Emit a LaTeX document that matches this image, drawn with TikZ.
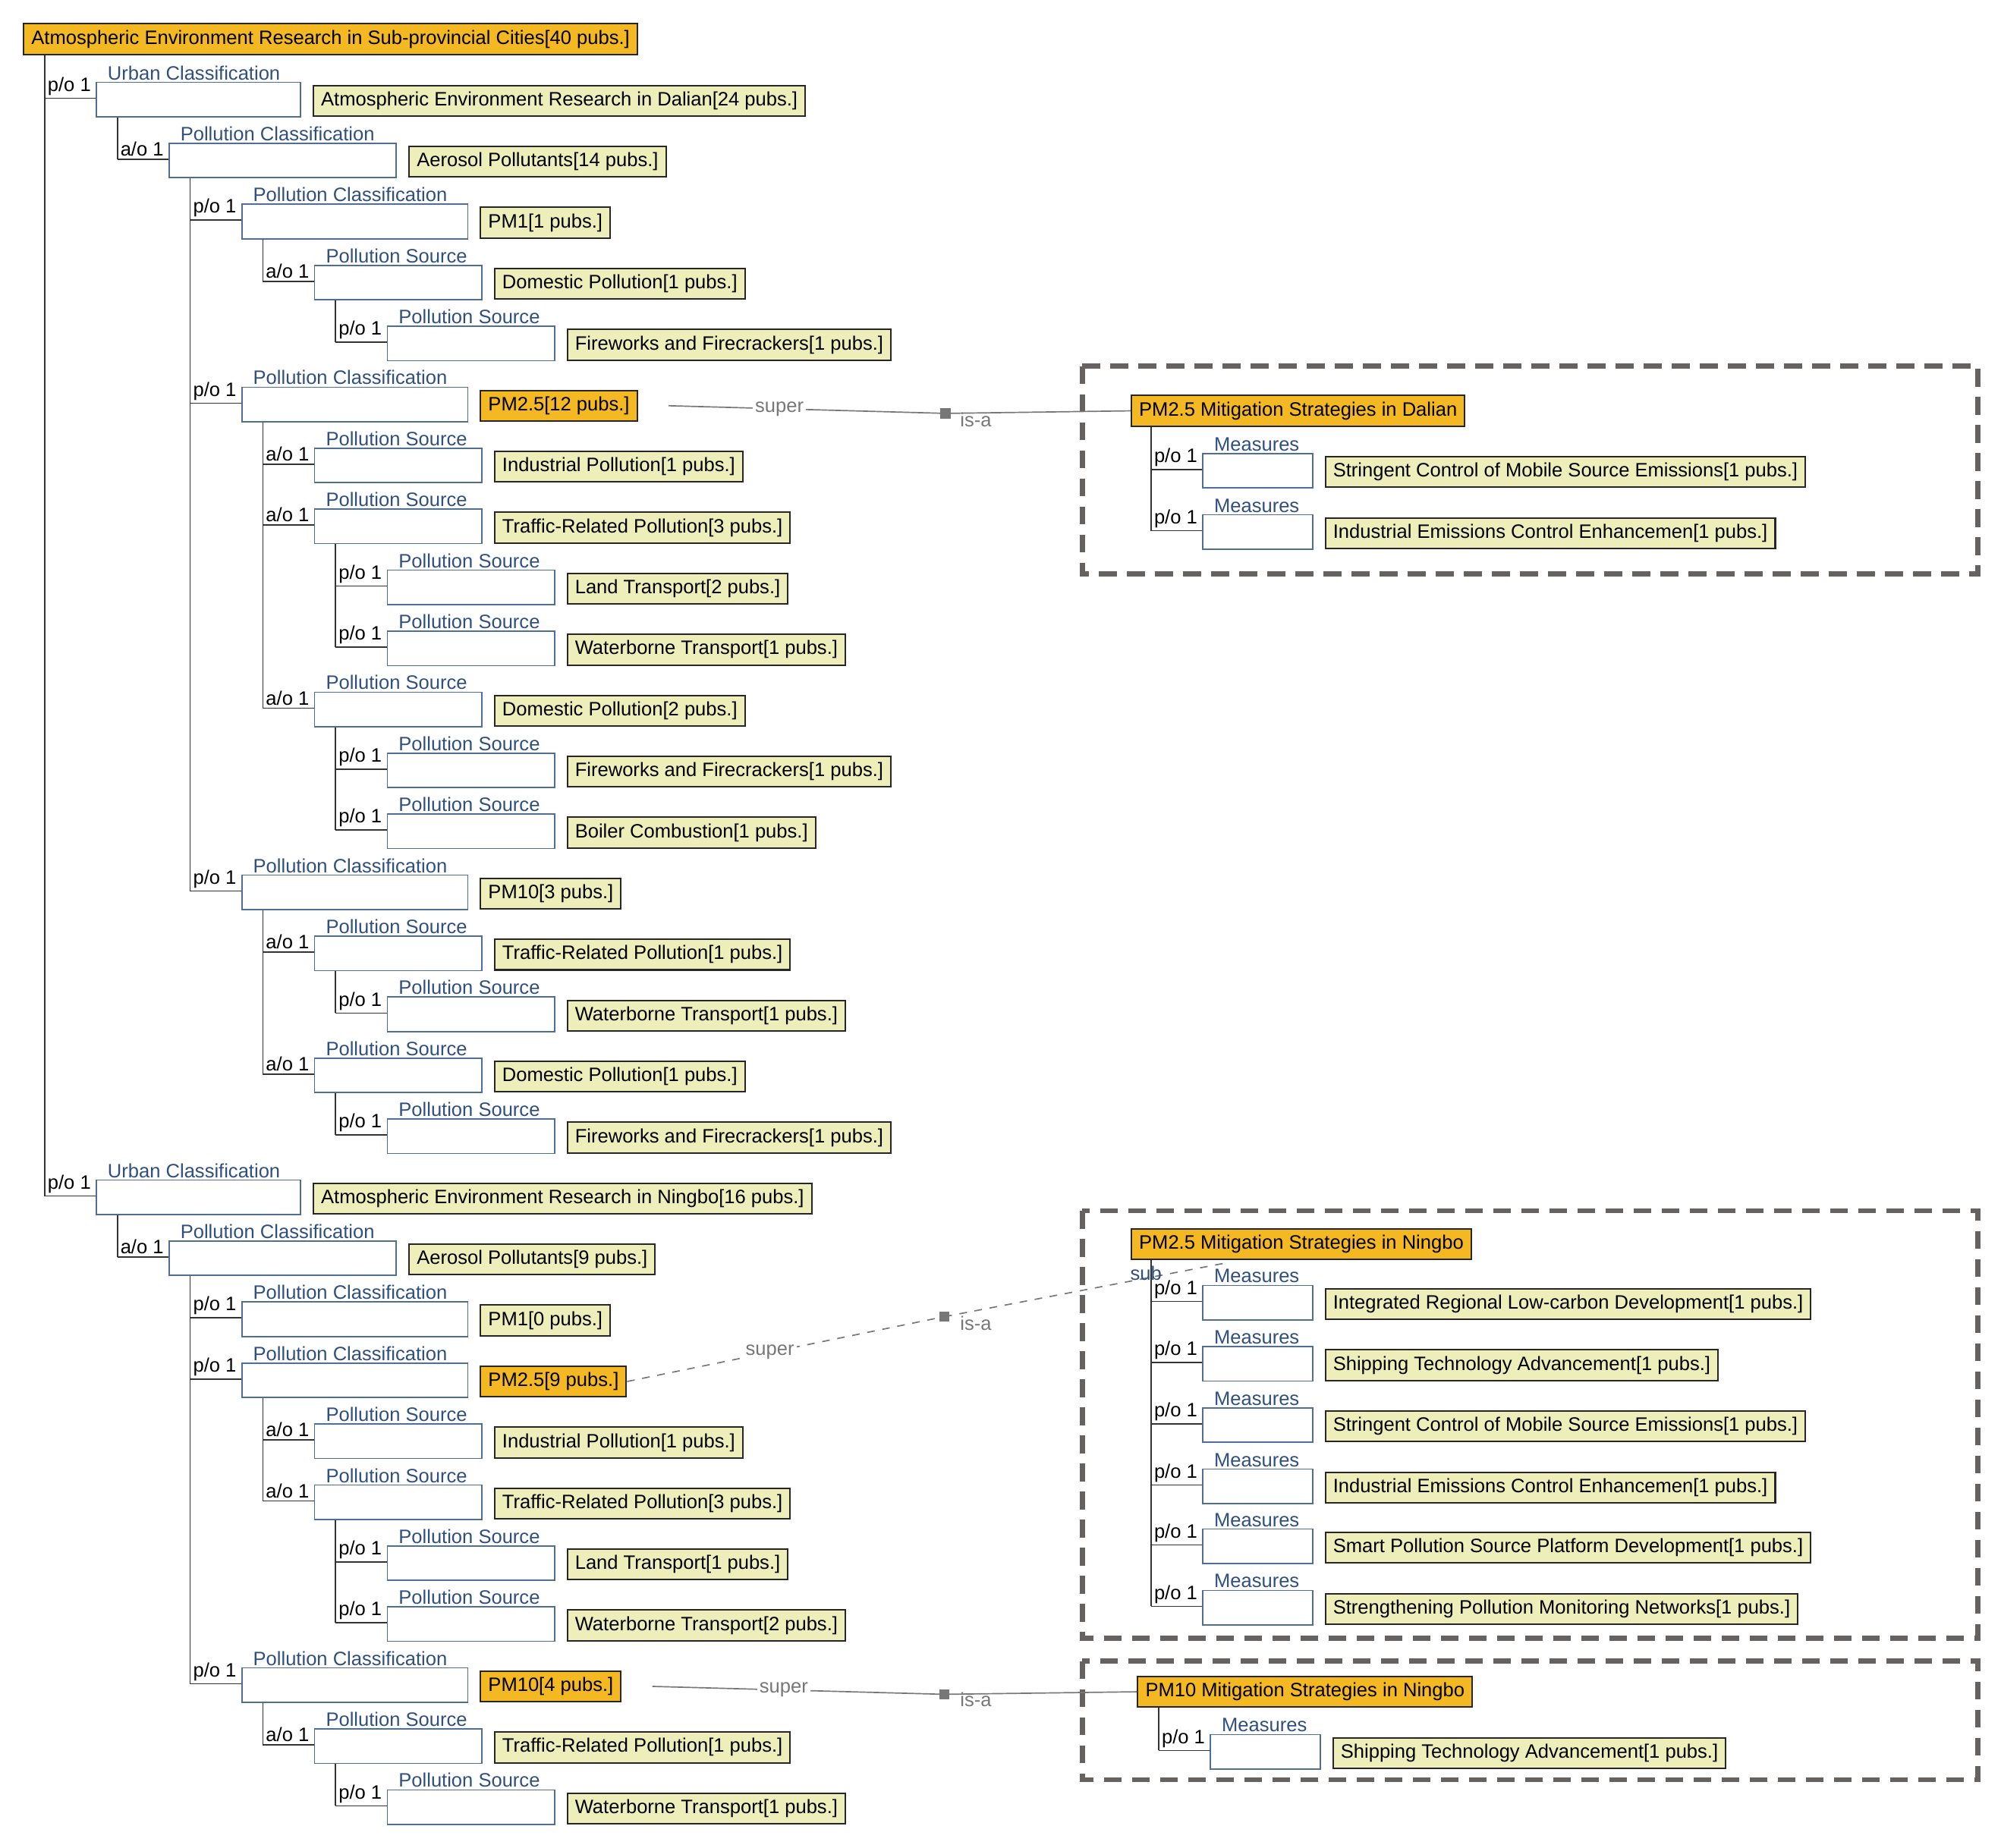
\documentclass[tikz,border=0pt]{standalone}
\usepackage{fontspec}
\setmainfont{Liberation Sans}
\begin{document}
\definecolor{orng}{HTML}{F4B822}
\definecolor{ylw}{HTML}{EEEEBB}
\definecolor{catb}{HTML}{2F4F80}
\definecolor{wbd}{HTML}{4F6E94}
\definecolor{dsh}{HTML}{666260}
\definecolor{cn}{HTML}{777777}
\begin{tikzpicture}[x=0.5pt,y=-0.5pt,
  every node/.style={font=\fontsize{7.6pt}{8pt}\selectfont},
  ybox/.style={draw=black!85,line width=0.6pt,fill=ylw,minimum height=12pt,inner xsep=3pt,inner ysep=0pt,anchor=west},
  obox/.style={ybox,fill=orng},
  wbox/.style={draw=wbd,line width=0.5pt,fill=white,minimum height=13.5pt,anchor=north west},
  cat/.style={text=catb,inner sep=0.5pt,anchor=south west},
  rel/.style={inner sep=0.5pt,anchor=south west},
  tree/.style={draw=black!80,line width=0.5pt},
  dbox/.style={draw=dsh,line width=2pt,dash pattern=on 7pt off 4pt},
  conn/.style={draw=cn,line width=0.5pt},
  lab/.style={text=cn,inner sep=1pt}]
\useasboundingbox (0,0) rectangle (1568,1448);
% #1 id, #2 vx, #3 yc, #4 white width, #5 rel, #6 category, #7 text, #8 style
\newcommand\myrow[8]{%
  \coordinate (#1-v) at (#2,{#3-2});
  \node[rel] (#1-r) at ({#2+1},{#3-3}) {#5};
  \node[wbox,minimum width={#4*0.5pt}] (#1-w) at ({#2+40},{#3-15}) {};
  \node[cat] (#1-c) at ({#2+48},{#3-15}) {#6};
  \node[#8] (#1) at ({#2+50+#4},{#3}) {#7};
  \draw[tree] (#1-v) -- (#1-w.west |- #1-v);
}
\node[obox,anchor=north west,minimum height=12pt] (root) at (18,18) {Atmospheric Environment Research in Sub-provincial Cities[40 pubs.]};
\def\PC{Pollution Classification}\def\PS{Pollution Source}
\myrow{r0}{35}{79}{160}{p/o 1}{Urban Classification}{Atmospheric Environment Research in Dalian[24 pubs.]}{ybox}
\myrow{r1}{92}{126.8}{178}{a/o 1}{\PC}{Aerosol Pollutants[14 pubs.]}{ybox}
\myrow{r2}{149}{174.6}{177}{p/o 1}{\PC}{PM1[1 pubs.]}{ybox}
\myrow{r3}{206}{222.4}{131}{a/o 1}{\PS}{Domestic Pollution[1 pubs.]}{ybox}
\myrow{r4}{263}{270.2}{131}{p/o 1}{\PS}{Fireworks and Firecrackers[1 pubs.]}{ybox}
\myrow{r5}{149}{318}{177}{p/o 1}{\PC}{PM2.5[12 pubs.]}{obox}
\myrow{r6}{206}{365.8}{131}{a/o 1}{\PS}{Industrial Pollution[1 pubs.]}{ybox}
\myrow{r7}{206}{413.6}{131}{a/o 1}{\PS}{Traffic-Related Pollution[3 pubs.]}{ybox}
\myrow{r8}{263}{461.4}{131}{p/o 1}{\PS}{Land Transport[2 pubs.]}{ybox}
\myrow{r9}{263}{509.2}{131}{p/o 1}{\PS}{Waterborne Transport[1 pubs.]}{ybox}
\myrow{r10}{206}{557}{131}{a/o 1}{\PS}{Domestic Pollution[2 pubs.]}{ybox}
\myrow{r11}{263}{604.8}{131}{p/o 1}{\PS}{Fireworks and Firecrackers[1 pubs.]}{ybox}
\myrow{r12}{263}{652.6}{131}{p/o 1}{\PS}{Boiler Combustion[1 pubs.]}{ybox}
\myrow{r13}{149}{700.4}{177}{p/o 1}{\PC}{PM10[3 pubs.]}{ybox}
\myrow{r14}{206}{748.2}{131}{a/o 1}{\PS}{Traffic-Related Pollution[1 pubs.]}{ybox}
\myrow{r15}{263}{796}{131}{p/o 1}{\PS}{Waterborne Transport[1 pubs.]}{ybox}
\myrow{r16}{206}{843.8}{131}{a/o 1}{\PS}{Domestic Pollution[1 pubs.]}{ybox}
\myrow{r17}{263}{891.6}{131}{p/o 1}{\PS}{Fireworks and Firecrackers[1 pubs.]}{ybox}
\myrow{r18}{35}{939.4}{160}{p/o 1}{Urban Classification}{Atmospheric Environment Research in Ningbo[16 pubs.]}{ybox}
\myrow{r19}{92}{987.2}{178}{a/o 1}{\PC}{Aerosol Pollutants[9 pubs.]}{ybox}
\myrow{r20}{149}{1035}{177}{p/o 1}{\PC}{PM1[0 pubs.]}{ybox}
\myrow{r21}{149}{1082.8}{177}{p/o 1}{\PC}{PM2.5[9 pubs.]}{obox}
\myrow{r22}{206}{1130.6}{131}{a/o 1}{\PS}{Industrial Pollution[1 pubs.]}{ybox}
\myrow{r23}{206}{1178.4}{131}{a/o 1}{\PS}{Traffic-Related Pollution[3 pubs.]}{ybox}
\myrow{r24}{263}{1226.2}{131}{p/o 1}{\PS}{Land Transport[1 pubs.]}{ybox}
\myrow{r25}{263}{1274}{131}{p/o 1}{\PS}{Waterborne Transport[2 pubs.]}{ybox}
\myrow{r26}{149}{1321.8}{177}{p/o 1}{\PC}{PM10[4 pubs.]}{obox}
\myrow{r27}{206}{1369.6}{131}{a/o 1}{\PS}{Traffic-Related Pollution[1 pubs.]}{ybox}
\myrow{r28}{263}{1417.4}{131}{p/o 1}{\PS}{Waterborne Transport[1 pubs.]}{ybox}
% tree verticals
\draw[tree] (root.south -| r0-v) -- (r18-v);
\foreach \p/\c in {r0/r1,r1/r13,r2/r3,r3/r4,r5/r10,r7/r9,r10/r12,r13/r16,r14/r15,r16/r17,r18/r19,r19/r26,r21/r23,r23/r25,r26/r27,r27/r28}
  \draw[tree] (\p-w.south -| \c-v) -- (\c-v);
% right side
\draw[dbox] (848,287) rectangle (1550,450);
\draw[dbox] (848,949) rectangle (1550,1284);
\draw[dbox] (848,1302) rectangle (1550,1395);
\node[obox] (md) at (886,322) {PM2.5 Mitigation Strategies in Dalian};
\myrow{m1}{902}{370}{86}{p/o 1}{Measures}{Stringent Control of Mobile Source Emissions[1 pubs.]}{ybox}
\myrow{m2}{902}{418}{86}{p/o 1}{Measures}{Industrial Emissions Control Enhancemen[1 pubs.]}{ybox}
\draw[tree] (md.south -| m2-v) -- (m2-v);
\node[obox] (mn) at (886,975) {PM2.5 Mitigation Strategies in Ningbo};
\myrow{n1}{902}{1022}{86}{p/o 1}{Measures}{Integrated Regional Low-carbon Development[1 pubs.]}{ybox}
\myrow{n2}{902}{1070}{86}{p/o 1}{Measures}{Shipping Technology Advancement[1 pubs.]}{ybox}
\myrow{n3}{902}{1118}{86}{p/o 1}{Measures}{Stringent Control of Mobile Source Emissions[1 pubs.]}{ybox}
\myrow{n4}{902}{1166}{86}{p/o 1}{Measures}{Industrial Emissions Control Enhancemen[1 pubs.]}{ybox}
\myrow{n5}{902}{1213}{86}{p/o 1}{Measures}{Smart Pollution Source Platform Development[1 pubs.]}{ybox}
\myrow{n6}{902}{1261}{86}{p/o 1}{Measures}{Strengthening Pollution Monitoring Networks[1 pubs.]}{ybox}
\draw[tree] (mn.south -| n6-v) -- (n6-v);
\node[obox] (mp) at (891,1326) {PM10 Mitigation Strategies in Ningbo};
\myrow{p1}{908}{1374}{86}{p/o 1}{Measures}{Shipping Technology Advancement[1 pubs.]}{ybox}
\draw[tree] (mp.south -| p1-v) -- (p1-v);
% connectors
\coordinate (sq1) at (741,324);
\draw[conn] ([xshift=12pt]r5.east) -- (sq1) node[lab,pos=0.4,fill=white] {super};
\draw[conn] (sq1) -- (md.west);
\node[lab,anchor=west] at (750,329) {is-a};
\fill[cn] ([shift={(-4,-4)}]sq1) rectangle ([shift={(4,4)}]sq1);
\coordinate (sq2) at (740,1032);
\coordinate (mnend) at (960,990);
\draw[conn,dashed] (r21.east) -- (sq2) node[lab,pos=0.45,fill=white] {super};
\draw[conn,dashed] (sq2) -- (mnend);
\node[lab,anchor=west] at (750,1037) {is-a};
\node[lab,text=catb] at (898,998) {sub};
\fill[cn] ([shift={(-4,-4)}]sq2) rectangle ([shift={(4,4)}]sq2);
\coordinate (sq3) at (740,1328);
\draw[conn] ([xshift=12pt]r26.east) -- (sq3) node[lab,pos=0.45,fill=white] {super};
\draw[conn] (sq3) -- (mp.west);
\node[lab,anchor=west] at (750,1332) {is-a};
\fill[cn] ([shift={(-4,-4)}]sq3) rectangle ([shift={(4,4)}]sq3);
\end{tikzpicture}
\end{document}
